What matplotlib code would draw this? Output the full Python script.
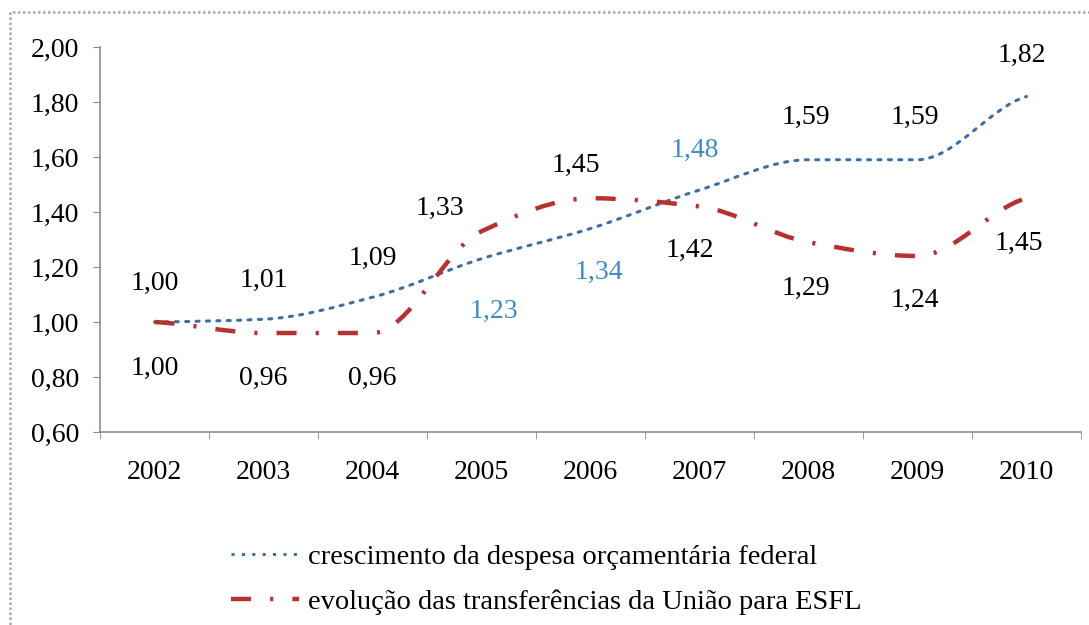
import numpy as np
import matplotlib
matplotlib.use("Agg")
import matplotlib.pyplot as plt
from matplotlib.path import Path
from matplotlib.patches import PathPatch, Rectangle
from matplotlib.lines import Line2D
from matplotlib.ticker import FuncFormatter, FixedLocator

plt.rcParams['font.family'] = ['Liberation Serif', 'DejaVu Serif']

years = ["2002", "2003", "2004", "2005", "2006", "2007", "2008", "2009", "2010"]
despesa = [1.00, 1.01, 1.09, 1.23, 1.34, 1.48, 1.59, 1.59, 1.82]
transf = [1.00, 0.96, 0.96, 1.33, 1.45, 1.42, 1.29, 1.24, 1.45]
yticks = [0.60, 0.80, 1.00, 1.20, 1.40, 1.60, 1.80, 2.00]

lbl_despesa = "crescimento da despesa orçamentária federal"
lbl_transf = "evolução das transferências da União para ESFL"

blue = "#3c6fa8"
blue_txt = "#3d8bcc"
red = "#b8312f"
grey = "#8c8c8c"


def smooth_path(xs, ys):
    # smoothed line as cubic beziers, flat tangents at turning points
    xs = np.asarray(xs, float)
    ys = np.asarray(ys, float)
    n = len(xs)
    d = np.diff(ys) / np.diff(xs)
    m = np.zeros(n)
    m[0], m[-1] = d[0] * 0.5, d[-1] * 0.5
    for i in range(1, n - 1):
        if d[i - 1] * d[i] <= 0:
            m[i] = 0.0
        else:
            m[i] = 2.0 / (1.0 / d[i - 1] + 1.0 / d[i])
    verts = [(xs[0], ys[0])]
    codes = [Path.MOVETO]
    for i in range(n - 1):
        h = xs[i + 1] - xs[i]
        verts += [(xs[i] + h / 3, ys[i] + m[i] * h / 3),
                  (xs[i + 1] - h / 3, ys[i + 1] - m[i + 1] * h / 3),
                  (xs[i + 1], ys[i + 1])]
        codes += [Path.CURVE4] * 3
    return Path(verts, codes)


fig = plt.figure(figsize=(10.89, 6.25), dpi=100)
fig.add_artist(Rectangle((10 / 1089, -0.05), 1.1, 1 - 12 / 625 + 0.05,
                         transform=fig.transFigure, fill=False,
                         edgecolor="#a8a8a8", linestyle=(0, (1, 1)), lw=1.8))

ax = fig.add_axes([100 / 1089, 1 - 432 / 625, 981 / 1089, 385 / 625])
x = np.arange(len(years))

blue_ls = (0, (1, 2.4))
red_ls = (0, (4.5, 4.3, 0.7, 4.3))

ax.add_patch(PathPatch(smooth_path(x, despesa), fill=False, edgecolor=blue,
                       lw=2.2, linestyle=blue_ls, capstyle="round"))
ax.add_patch(PathPatch(smooth_path(x, transf), fill=False, edgecolor=red,
                       lw=3.2, linestyle=red_ls))

ax.set_xlim(-0.5, len(years) - 0.5)
ax.set_ylim(0.6, 2.0)
ax.set_xticks(x)
ax.set_xticklabels(years)
ax.xaxis.set_minor_locator(FixedLocator(np.arange(-0.5, len(years), 1.0)))
ax.tick_params(axis="x", which="major", length=0, pad=20, labelsize=20)
ax.tick_params(axis="x", which="minor", length=5, color=grey)
ax.set_yticks(yticks)
ax.yaxis.set_major_formatter(FuncFormatter(lambda v, p: f"{v:.2f}".replace(".", ",")))
ax.tick_params(axis="y", length=5, color=grey, pad=10, labelsize=20)

for s in ["top", "right"]:
    ax.spines[s].set_visible(False)
for s in ["left", "bottom"]:
    ax.spines[s].set_color(grey)
    ax.spines[s].set_linewidth(1.2)


def fmt(v):
    return f"{v:.2f}".replace(".", ",")


# label offsets in pixels (dx, dy), positive dy = up
off_despesa = [(0, 39), (0, 39), (0, 39), (12, -53), (8, -44), (-5, 40), (-3, 42), (-3, 42), (-5, 41)]
col_despesa = ["black", "black", "black", blue_txt, blue_txt, blue_txt, "black", "black", "black"]
off_transf = [(0, -46), (0, -45), (0, -45), (-42, 23), (-15, 33), (-10, -44), (-3, -46), (-3, -44), (-8, -45)]

for i in range(len(years)):
    dx, dy = off_despesa[i]
    ax.annotate(fmt(despesa[i]), (x[i], despesa[i]), xytext=(dx * 0.72, dy * 0.72),
                textcoords="offset points", ha="center", va="center",
                fontsize=20, color=col_despesa[i])
    dx, dy = off_transf[i]
    ax.annotate(fmt(transf[i]), (x[i], transf[i]), xytext=(dx * 0.72, dy * 0.72),
                textcoords="offset points", ha="center", va="center",
                fontsize=20, color="black")

handles = [Line2D([], [], color=blue, lw=2.2, linestyle=blue_ls),
           Line2D([], [], color=red, lw=3.2, linestyle=red_ls)]
fig.legend(handles, [lbl_despesa, lbl_transf], loc="upper left",
           bbox_to_anchor=(205 / 1089, 1 - 518 / 625), frameon=False,
           fontsize=20.5, handlelength=2.4, handletextpad=0.3, labelspacing=0.7)

fig.savefig("out.png", dpi=100)
